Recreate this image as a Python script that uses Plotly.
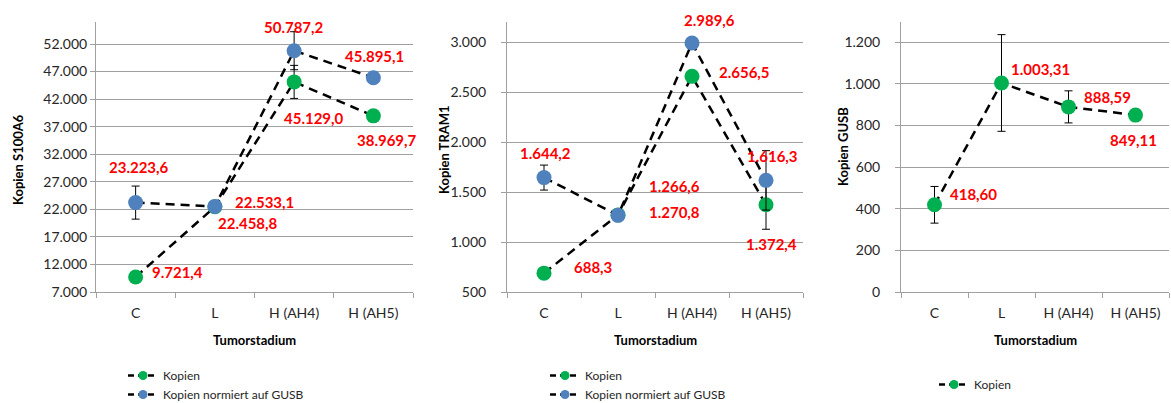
import plotly.graph_objects as go

W, H = 1171, 403

categories = ["C", "L", "H (AH4)", "H (AH5)"]

# Panel 1: S100A6
s100_kopien = [9721.4, 22458.8, 45129.0, 38969.7]
s100_kopien_err = [None, None, 3000, None]
s100_norm = [23223.6, 22533.1, 50787.2, 45895.1]
s100_norm_err = [3000, None, 3450, None]

# Panel 2: TRAM1
tram_kopien = [688.3, 1270.8, 2656.5, 1372.4]
tram_kopien_err = [None, None, None, 245]
tram_norm = [1644.2, 1266.6, 2989.6, 1616.3]
tram_norm_err = [125, None, None, 297]

# Panel 3: GUSB
gusb_kopien = [418.60, 1003.31, 888.59, 849.11]
gusb_kopien_err = [88, 232, 77, None]

FONT = "Lato"
GREEN = "#00B050"
BLUE = "#4F81BD"
GRID = "#A0A0A0"
RED = "#FF0000"

def px_x(p):
    return p / W

def px_y(p):
    return 1 - p / H

def de(v, dec):
    s = f"{v:,.{dec}f}"
    return s.replace(",", "X").replace(".", ",").replace("X", ".")

fig = go.Figure()

panels = [
    dict(ax="", leg="legend", series=[
        ("Kopien", s100_kopien, s100_kopien_err, GREEN,
         [(42, 5), (33, -16), (20, -36), (14, -24)]),
        ("Kopien normiert auf GUSB", s100_norm, s100_norm_err, BLUE,
         [(3, 36), (50, 4), (0, 24), (1, 22)]),
    ], dec=1),
    dict(ax="2", leg="legend2", series=[
        ("Kopien", tram_kopien, tram_kopien_err, GREEN,
         [(49, 6), (56, 3), (52, 4), (5, -39)]),
        ("Kopien normiert auf GUSB", tram_norm, tram_norm_err, BLUE,
         [(1, 25), (56, 29), (17, 23), (6, 24)]),
    ], dec=1),
    dict(ax="3", leg="legend3", series=[
        ("Kopien", gusb_kopien, gusb_kopien_err, GREEN,
         [(39, 11), (39, 14), (39, 10), (-2, -25)]),
    ], dec=2),
]

annotations = []
for p in panels:
    for name, vals, errs, col, offs in p["series"]:
        fig.add_trace(go.Scatter(
            x=categories, y=vals, name=name, mode="lines+markers",
            xaxis="x" + p["ax"], yaxis="y" + p["ax"], showlegend=False,
            line=dict(color="black", width=2.5, dash="9px,6px"),
            marker=dict(color=col, size=15),
            error_y=dict(type="data", array=errs, visible=True,
                         color="black", thickness=1, width=4),
        ))
        # legend-only entry with a smaller symbol, as in the reference legend
        fig.add_trace(go.Scatter(
            x=[None], y=[None], name=name, mode="lines+markers",
            xaxis="x" + p["ax"], yaxis="y" + p["ax"], legend=p["leg"],
            line=dict(color="black", width=2.5, dash="6px,4px"),
            marker=dict(color=col, size=9), hoverinfo="skip",
        ))
        for c, v, (dx, dy) in zip(categories, vals, offs):
            annotations.append(dict(
                x=c, y=v, xref="x" + p["ax"], yref="y" + p["ax"],
                text=de(v, p["dec"]), showarrow=False,
                xanchor="center", yanchor="middle", xshift=dx, yshift=dy,
                font=dict(family=FONT, size=15, color=RED, weight="bold"),
            ))

# axes geometry (pixels)
x_dom = [(96, 413), (507, 803), (901, 1169)]
y_bottom, y_top = 292, 22
y_ranges = [(7000, 56000, 7000, 5000), (500, 3200, 500, 500), (0, 1296, 0, 200)]
y_standoff = [0, 12, 12]
y_titles = ["Kopien S100A6", "Kopien TRAM1", "Kopien GUSB"]
y_title_pos = [(18, 160), (444, 150), (843, 147)]

layout = dict(
    width=W, height=H, margin=dict(l=0, r=0, t=0, b=0, autoexpand=False),
    paper_bgcolor="white", plot_bgcolor="white",
    separators=",.",
    font=dict(family=FONT, color="#262626"),
)

for i, (ax, (x0, x1), (ymin, ymax, t0, dt)) in enumerate(zip(["", "2", "3"], x_dom, y_ranges)):
    layout["xaxis" + ax] = dict(
        domain=[px_x(x0), px_x(x1)], anchor="y" + ax,
        type="category", range=[-0.5, 3.5],
        showline=True, linecolor=GRID, linewidth=1,
        ticks="outside", tickson="boundaries", ticklen=5, tickcolor=GRID,
        ticklabelstandoff=8,
        showgrid=False, tickfont=dict(size=14, family=FONT, color="#262626"),
        fixedrange=True,
    )
    layout["yaxis" + ax] = dict(
        domain=[px_y(y_bottom), px_y(y_top)], anchor="x" + ax,
        range=[ymin, ymax], tick0=t0, dtick=dt, tickformat=",.0f",
        showline=True, linecolor=GRID, linewidth=1,
        ticks="outside", ticklen=5, tickcolor=GRID,
        ticklabelstandoff=y_standoff[i],
        showgrid=True, gridcolor=GRID, gridwidth=1, zeroline=False,
        tickfont=dict(size=14, family=FONT, color="#262626"),
        fixedrange=True,
    )
    annotations.append(dict(
        x=px_x((x0 + x1) / 2), y=px_y(340),
        xref="paper", yref="paper", text="Tumorstadium", showarrow=False,
        xanchor="center", yanchor="middle",
        font=dict(family=FONT, size=13, color="black", weight="bold"),
    ))
    tx, ty = y_title_pos[i]
    annotations.append(dict(
        x=px_x(tx), y=px_y(ty), xref="paper", yref="paper",
        text=y_titles[i], showarrow=False, textangle=-90,
        xanchor="center", yanchor="middle",
        font=dict(family=FONT, size=13, color="black", weight="bold"),
    ))

leg_common = dict(orientation="v", xanchor="left", yanchor="top",
                  bgcolor="rgba(0,0,0,0)", font=dict(family=FONT, size=12, color="#262626"),
                  tracegroupgap=0, itemwidth=30)
layout["legend"] = dict(leg_common, x=px_x(123), y=px_y(361))
layout["legend2"] = dict(leg_common, x=px_x(545), y=px_y(361))
layout["legend3"] = dict(leg_common, x=px_x(934), y=px_y(370))
layout["annotations"] = annotations
layout["showlegend"] = True

fig.update_layout(**layout)
fig.write_html("out.html")
